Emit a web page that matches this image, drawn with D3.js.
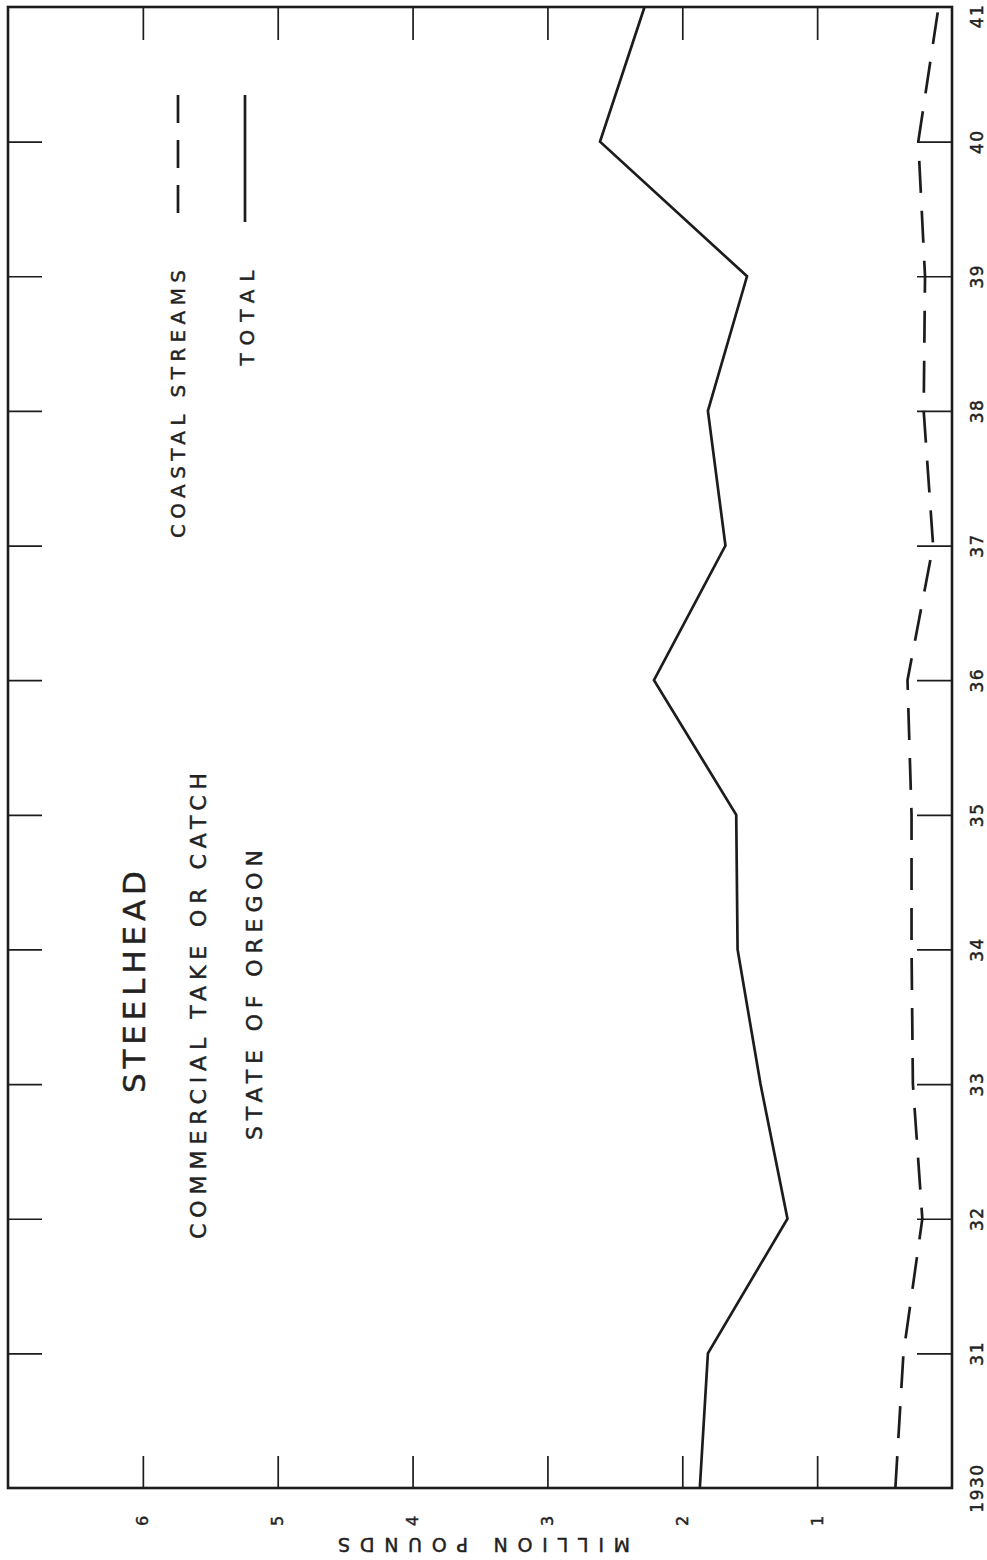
<!DOCTYPE html>
<html><head><meta charset="utf-8">
<script src="https://cdn.jsdelivr.net/npm/d3@7"></script>
<style>
html,body{margin:0;padding:0;background:#fff;}
svg{display:block;}
text{font-family:"DejaVu Sans","Liberation Sans",sans-serif;fill:#222;stroke:#222;stroke-width:0.45px;}
</style></head>
<body>
<svg id="chart" width="987" height="1560"></svg>
<script>
const years = [1930,1931,1932,1933,1934,1935,1936,1937,1938,1939,1940,1941];
const yearLabels = ["1930","31","32","33","34","35","36","37","38","39","40","41"];
const totalCatch = [1.87,1.81,1.22,1.42,1.59,1.60,2.21,1.68,1.81,1.52,2.61,2.28];
const coastalStreams = [0.42,0.36,0.22,0.29,0.30,0.30,0.33,0.14,0.21,0.20,0.25,0.10];
const valueTicks = [1,2,3,4,5,6];
const valueLabels = ["1","2","3","4","5","6"];

const svg = d3.select("#chart");
const ink = "#1c1c1c";

// Rotated chart: years run bottom->top, values run right->left
const yYear = d3.scaleLinear().domain([1930,1941]).range([1488,7]);
const xVal = d3.scaleLinear().domain([0,7]).range([952,8]);

const g = svg.append("g");

function styleTicks(s){
  s.select(".domain").remove();
  s.selectAll(".tick line").attr("stroke",ink).attr("stroke-width",1.7);
}

// Right axis (value 0): year ticks pointing inward
g.append("g").attr("transform",`translate(${xVal(0)},0)`)
  .call(d3.axisRight(yYear).tickValues(years.slice(1,-1)).tickSizeInner(-35).tickSizeOuter(0).tickFormat(""))
  .call(styleTicks);

// Left axis (value 7): year ticks pointing inward
g.append("g").attr("transform",`translate(${xVal(7)},0)`)
  .call(d3.axisLeft(yYear).tickValues(years.slice(1,-1)).tickSizeInner(-34).tickSizeOuter(0).tickFormat(""))
  .call(styleTicks);

// Bottom axis: value ticks pointing up
g.append("g").attr("transform",`translate(0,${yYear(1930)})`)
  .call(d3.axisBottom(xVal).tickValues(valueTicks).tickSizeInner(-32).tickSizeOuter(0).tickFormat(""))
  .call(styleTicks);

// Top axis: value ticks pointing down
g.append("g").attr("transform",`translate(0,${yYear(1941)})`)
  .call(d3.axisTop(xVal).tickValues(valueTicks).tickSizeInner(-33).tickSizeOuter(0).tickFormat(""))
  .call(styleTicks);

// Frame
g.append("rect")
  .attr("x",xVal(7)).attr("y",yYear(1941))
  .attr("width",xVal(0)-xVal(7)).attr("height",yYear(1930)-yYear(1941))
  .attr("fill","none").attr("stroke",ink).attr("stroke-width",2.6);

// Year labels (rotated)
g.selectAll("text.year").data(years).enter().append("text")
  .attr("class","year")
  .attr("transform",d=>`translate(${xVal(0)+25},${Math.max(yYear(d),16)}) rotate(-90)`)
  .attr("text-anchor","middle").attr("dy","0.35em")
  .attr("font-size",17).attr("letter-spacing",1.5)
  .text((d,i)=>yearLabels[i]);

// Value labels (rotated)
g.selectAll("text.val").data(valueTicks).enter().append("text")
  .attr("class","val")
  .attr("transform",d=>`translate(${xVal(d)},${yYear(1930)+33}) rotate(-90)`)
  .attr("text-anchor","middle").attr("dy","0.35em")
  .attr("font-size",16)
  .text((d,i)=>valueLabels[i]);

// Axis title, upside down
g.append("text")
  .attr("transform",`translate(${xVal(3.47)},1545) rotate(180)`)
  .attr("text-anchor","middle").attr("dy","0.35em")
  .attr("font-size",19)
  .attr("textLength",292).attr("lengthAdjust","spacing")
  .text("MILLION POUNDS");

// Lines
const line = d3.line().x(d=>xVal(d.v)).y(d=>yYear(d.y));
const totalPts = years.map((y,i)=>({y, v:totalCatch[i]}));
const coastPts = years.map((y,i)=>({y, v:coastalStreams[i]}));

g.append("path").datum(totalPts).attr("d",line)
  .attr("fill","none").attr("stroke",ink).attr("stroke-width",2.7)
  .attr("stroke-linejoin","miter");

g.append("path").datum(coastPts).attr("d",line)
  .attr("fill","none").attr("stroke",ink).attr("stroke-width",2.7)
  .attr("stroke-dasharray","32,18");

// Title texts (rotated)
function rtext(x,y,size,len,str){
  g.append("text")
    .attr("transform",`translate(${x},${y}) rotate(-90)`)
    .attr("text-anchor","middle").attr("dy","0.35em")
    .attr("font-size",size)
    .attr("textLength",len).attr("lengthAdjust","spacing")
    .text(str);
}
rtext(134,982,31,222,"STEELHEAD");
rtext(198,1006,22,466,"COMMERCIAL TAKE OR CATCH");
rtext(254,995,22,290,"STATE OF OREGON");
rtext(178,404,20,268,"COASTAL STREAMS");
rtext(247,318,20,95,"TOTAL");

// Legend samples
g.append("line").attr("x1",178).attr("x2",178).attr("y1",95).attr("y2",222)
  .attr("stroke",ink).attr("stroke-width",2.7).attr("stroke-dasharray","28,17");
g.append("line").attr("x1",245).attr("x2",245).attr("y1",95).attr("y2",222)
  .attr("stroke",ink).attr("stroke-width",2.7);
</script>
</body></html>
